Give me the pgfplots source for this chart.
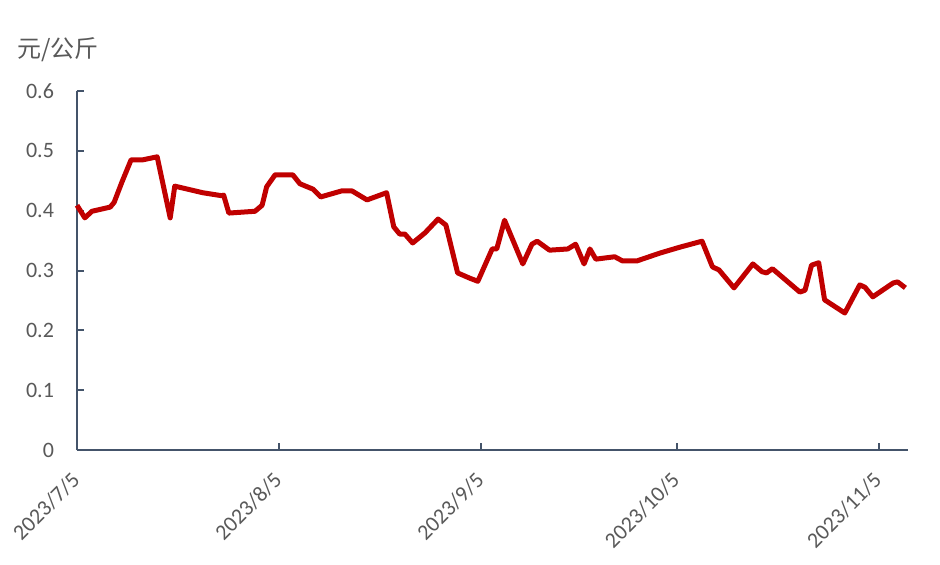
\documentclass[border=0pt]{standalone}
\usepackage{pgfplots}
\pgfplotsset{compat=1.18}
\usepackage{fontspec}
\setmainfont{Carlito}
\newfontfamily\cjk{Noto Sans CJK SC}
\definecolor{linered}{HTML}{C00000}
\definecolor{axisc}{HTML}{44546A}
\definecolor{txt}{HTML}{595959}
\begin{document}
\begin{tikzpicture}
\begin{axis}[
  name=ax,
  scale only axis,
  width=415.5pt, height=179.5pt,
  xmin=0, xmax=127.5, ymin=0, ymax=0.6,
  axis x line=bottom, axis y line=left,
  axis line style={-, axisc, line width=1.4pt},
  tick style={axisc, line width=1pt},
  major tick length=3.5pt,
  tick align=inside,
  xtick={0,31,62,92,123},
  xticklabels={2023/7/5,2023/8/5,2023/9/5,2023/10/5,2023/11/5},
  ytick={0,0.1,0.2,0.3,0.4,0.5,0.6},
  yticklabels={0,0.1,0.2,0.3,0.4,0.5,0.6},
  tick label style={font=\fontsize{11}{13}\selectfont, text=txt},
  xticklabel style={xshift=2pt, yshift=-11pt, rotate=45, anchor=east},
  yticklabel style={xshift=-8pt},
  clip=false,
]
\addplot[linered, line width=2.5pt, line join=round] coordinates {
(0,0.409) (1.2,0.388) (2.3,0.399) (5.1,0.406) (5.7,0.414) (6.9,0.448)
(8.3,0.485) (10.1,0.485) (12.3,0.490) (14.3,0.388) (15.0,0.441)
(19.3,0.430) (22.2,0.425) (22.5,0.426) (23.3,0.396) (27.3,0.399)
(28.4,0.409) (29.1,0.440) (30.4,0.460) (33.1,0.460) (34.2,0.445)
(36.2,0.436) (37.4,0.423) (40.6,0.433) (42.2,0.433) (44.5,0.418)
(47.5,0.430) (48.6,0.373) (49.5,0.361) (50.3,0.361) (51.5,0.346)
(53.4,0.363) (55.4,0.386) (56.6,0.376) (58.4,0.296) (60.3,0.287)
(61.5,0.282) (63.7,0.336) (64.4,0.336) (65.6,0.384) (68.4,0.311)
(69.8,0.344) (70.6,0.349) (72.5,0.334) (75.3,0.336) (76.5,0.344)
(77.8,0.311) (78.7,0.336) (79.6,0.319) (82.5,0.323) (83.7,0.316)
(85.9,0.316) (89.4,0.329) (92.5,0.339) (95.9,0.349) (97.5,0.306)
(98.5,0.301) (100.8,0.271) (103.7,0.311) (105.1,0.298) (105.8,0.296)
(106.7,0.303) (110.9,0.264) (111.7,0.267) (112.7,0.309) (113.8,0.313)
(114.7,0.251) (117.8,0.229) (120.1,0.276) (120.9,0.272) (122.1,0.256)
(125.2,0.279) (125.9,0.281) (127.1,0.271)
};
\node[font=\cjk\fontsize{12}{14}\selectfont, text=txt] at ([xshift=-9.5pt, yshift=20.5pt]rel axis cs:0,1) {元/公斤};
\end{axis}
\pgfresetboundingbox
\path[use as bounding box] ([shift={(-38.5pt,-57pt)}]ax.south west) rectangle ([shift={(431.5pt,225pt)}]ax.south west);
\end{tikzpicture}
\end{document}
